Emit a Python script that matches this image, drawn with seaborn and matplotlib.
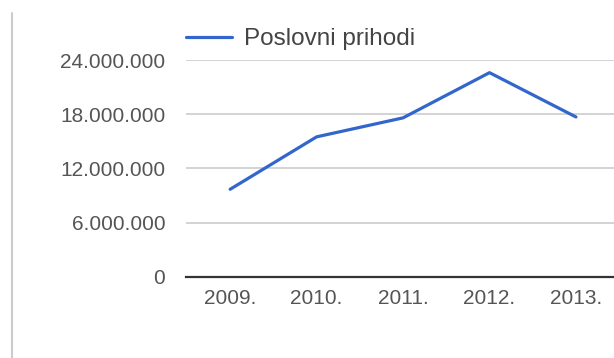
import matplotlib
matplotlib.use("Agg")
import matplotlib.pyplot as plt
from matplotlib.lines import Line2D
from matplotlib.ticker import FuncFormatter
import seaborn as sns
import pandas as pd

# Operating revenue per year
years = ["2009.", "2010.", "2011.", "2012.", "2013."]
revenue = [9_700_000, 15_500_000, 17_600_000, 22_600_000, 17_700_000]
y_ticks = [0, 6_000_000, 12_000_000, 18_000_000, 24_000_000]
series_name = "Poslovni prihodi"

sns.set_theme(style="white")
plt.rcParams["font.family"] = ["Liberation Sans", "DejaVu Sans"]

df = pd.DataFrame({"year": years, "value": revenue})

fig = plt.figure(figsize=(6.14, 3.58), dpi=100)
ax = fig.add_axes([0.303, 0.2263, 0.697, 0.6061])

sns.lineplot(data=df, x="year", y="value", ax=ax, color="#3366CC",
             linewidth=2.3, label=series_name, legend=False)

ax.set_ylim(0, 24_000_000)
ax.set_xlim(-0.51, 4.44)
ax.set_yticks(y_ticks)
ax.yaxis.set_major_formatter(FuncFormatter(lambda v, _: f"{int(v):,}".replace(",", ".")))
ax.set_xlabel("")
ax.set_ylabel("")

ax.grid(axis="y", color="#cccccc", linewidth=1.2)
ax.grid(axis="x", visible=False)
for side in ("top", "right", "left"):
    ax.spines[side].set_visible(False)
ax.spines["bottom"].set_color("#333333")
ax.spines["bottom"].set_linewidth(1.6)
ax.spines["bottom"].set_zorder(3)

ax.tick_params(axis="y", length=0, pad=15, labelsize=15, labelcolor="#555555")
ax.tick_params(axis="x", length=0, pad=9, labelsize=15, labelcolor="#555555")

handle = Line2D([], [], color="#3366CC", linewidth=2.3)
leg = fig.legend([handle], [series_name], loc="center left",
                 bbox_to_anchor=(0.303, 0.891), frameon=False,
                 fontsize=17.5, handlelength=1.9, handletextpad=0.5,
                 borderpad=0, borderaxespad=0)
for t in leg.get_texts():
    t.set_color("#444444")

# page border line on the left
fig.add_artist(Line2D([12 / 614, 12 / 614], [0, 1 - 13 / 358],
                      transform=fig.transFigure, color="#cccccc", linewidth=1.5))

fig.savefig("out.png", dpi=100)
